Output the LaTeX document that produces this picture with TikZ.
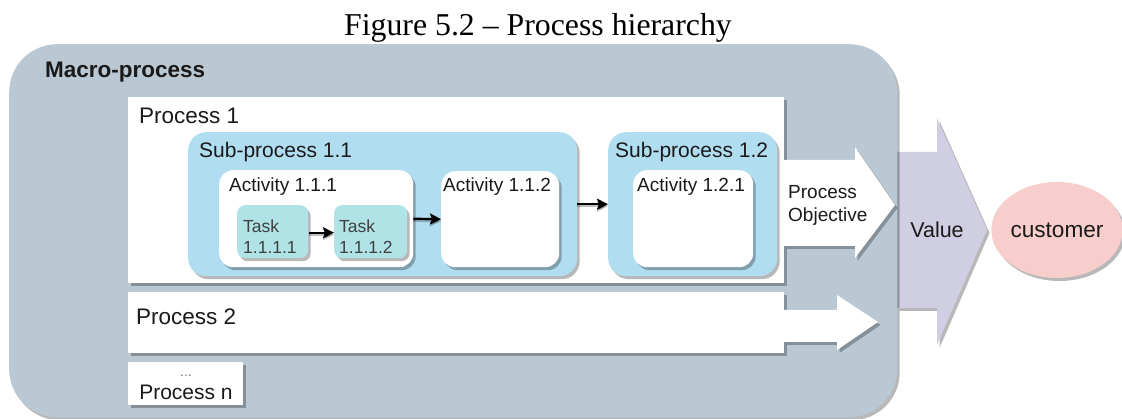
\documentclass[tikz,border=0pt]{standalone}
\usepackage{fontspec}
\setmainfont{Liberation Serif}
\setsansfont{Liberation Sans}
\usetikzlibrary{shadows,shapes.geometric,arrows.meta,calc}

\definecolor{macrofill}{HTML}{BAC8D3}
\definecolor{subfill}{HTML}{B1DDF0}
\definecolor{taskfill}{HTML}{B0E3E6}
\definecolor{valuefill}{HTML}{D0CEE2}
\definecolor{custfill}{HTML}{F8CECC}
\definecolor{txt}{HTML}{1A1A1A}

\begin{document}
\begin{tikzpicture}[x=1pt,y=-1pt,
  softshadow/.style={drop shadow={shadow xshift=2.5pt,shadow yshift=-3pt,opacity=0.28,fill=black}},
  panel/.style={softshadow,draw=none,inner sep=0pt,anchor=north west},
  lbl/.style={inner sep=0pt,anchor=base west,font=\sffamily,text=txt},
  fs/.style={font=\sffamily\fontsize{#1}{#1}\selectfont},
  flow/.style={line width=2.2pt,draw=black,-{Stealth[length=11pt,width=11pt,inset=2pt]}},
  flowshadow/.style={line width=2.2pt,draw=black,opacity=0.25,-{Stealth[length=11pt,width=11pt,inset=2pt]}}
]
\useasboundingbox (0,0) rectangle (1122,419);

% caption
\node[inner sep=0pt,anchor=base,font=\fontsize{31.8}{36}\selectfont] (title) at (538,36) {Figure 5.2 – Process hierarchy};

% value arrow, partly tucked behind the macro-process panel
\path[softshadow,fill=valuefill] (897,152) -- (937,152) -- (937,118) -- (987,230)
  -- (937,345) -- (937,308) -- (897,308) -- cycle;

% macro-process panel
\node[panel,fill=macrofill,rounded corners=48pt,minimum width=888pt,minimum height=373pt] (macro) at (9,44) {};
\node[lbl,font=\sffamily\bfseries\fontsize{22.5}{27}\selectfont] (macrolbl) at (45,78) {Macro-process};

% process 1
\node[panel,fill=white,minimum width=656pt,minimum height=186pt] (p1) at (128,97) {};
\node[lbl,fs=22.5] (p1lbl) at (139,124) {Process 1};

% sub-process 1.1
\node[panel,fill=subfill,rounded corners=18pt,minimum width=389pt,minimum height=144pt] (s11) at (188,132) {};
\node[lbl,fs=21] (s11lbl) at (199,157.5) {Sub-process 1.1};

\node[panel,fill=white,rounded corners=14pt,minimum width=194pt,minimum height=97pt] (a111) at (219,170) {};
\node[lbl,fs=19] (a111lbl) at (229,192) {Activity 1.1.1};

\node[panel,fill=taskfill,rounded corners=8pt,minimum width=71pt,minimum height=53pt] (t1) at (237,205) {};
\node[lbl,fs=17.5,text=black!75] (t1a) at (243,233) {Task};
\node[lbl,fs=17.5,text=black!75] (t1b) at (243,254) {1.1.1.1};

\node[panel,fill=taskfill,rounded corners=8pt,minimum width=73pt,minimum height=53pt] (t2) at (334,205) {};
\node[lbl,fs=17.5,text=black!75] (t2a) at (339,233) {Task};
\node[lbl,fs=17.5,text=black!75] (t2b) at (339,254) {1.1.1.2};

\node[panel,fill=white,rounded corners=14pt,minimum width=118pt,minimum height=96pt] (a112) at (441,171) {};
\node[lbl,fs=19] (a112lbl) at (443,192) {Activity 1.1.2};

% sub-process 1.2
\node[panel,fill=subfill,rounded corners=18pt,minimum width=169pt,minimum height=144pt] (s12) at (608,132) {};
\node[lbl,fs=21] (s12lbl) at (615,157.5) {Sub-process 1.2};

\node[panel,fill=white,rounded corners=14pt,minimum width=120pt,minimum height=97pt] (a121) at (633,170) {};
\node[lbl,fs=19] (a121lbl) at (637,192) {Activity 1.2.1};

% flow inside process 1 (each with a faint offset shadow)
\draw[flowshadow] ($(t1.east)+(1,3)$) -- ($(t2.west)+(0,3)$);
\draw[flow] ($(t1.east)+(1,1)$) -- ($(t2.west)+(0,1)$);
\draw[flowshadow] ($(a111.east)+(0,2)$) -- ($(a112.west)+(0,2)$);
\draw[flow] (a111.east) -- (a112.west);
\draw[flowshadow] ($(s11.east)+(0,2)$) -- ($(s12.west)+(0,2)$);
\draw[flow] (s11.east) -- (s12.west);

% process objective arrow
\path[softshadow,fill=white] (784,160) -- (855,160) -- (855,147) -- (895,205)
  -- (855,258) -- (855,246) -- (784,246) -- cycle;
\node[lbl,fs=19] (objA) at (788,199) {Process};
\node[lbl,fs=19] (objB) at (788,222) {Objective};

% process 2
\node[panel,fill=white,minimum width=656pt,minimum height=61pt] (p2) at (128,292) {};
\node[lbl,fs=22.5] (p2lbl) at (136,325) {Process 2};
\path[softshadow,fill=white] (784,310) -- (837,310) -- (837,295) -- (878,322)
  -- (837,350) -- (837,342) -- (784,342) -- cycle;

% process n
\node[panel,fill=white,minimum width=115pt,minimum height=43pt] (pn) at (128,362) {};
\node[inner sep=0pt,anchor=base,fs=14,text=black!55] (pndots) at (186,377) {...};
\node[inner sep=0pt,anchor=base,fs=21,text=txt] (pnlbl) at (186,400) {Process n};

% value and customer
\node[inner sep=0pt,fs=21.5,text=txt] (value) at (937,230) {Value};
\node[ellipse,softshadow,fill=custfill,draw=none,minimum width=120pt,minimum height=96pt,
  inner sep=0pt,fs=22.6,text=txt] (cust) at (1057,230) {customer};
\end{tikzpicture}
\end{document}
